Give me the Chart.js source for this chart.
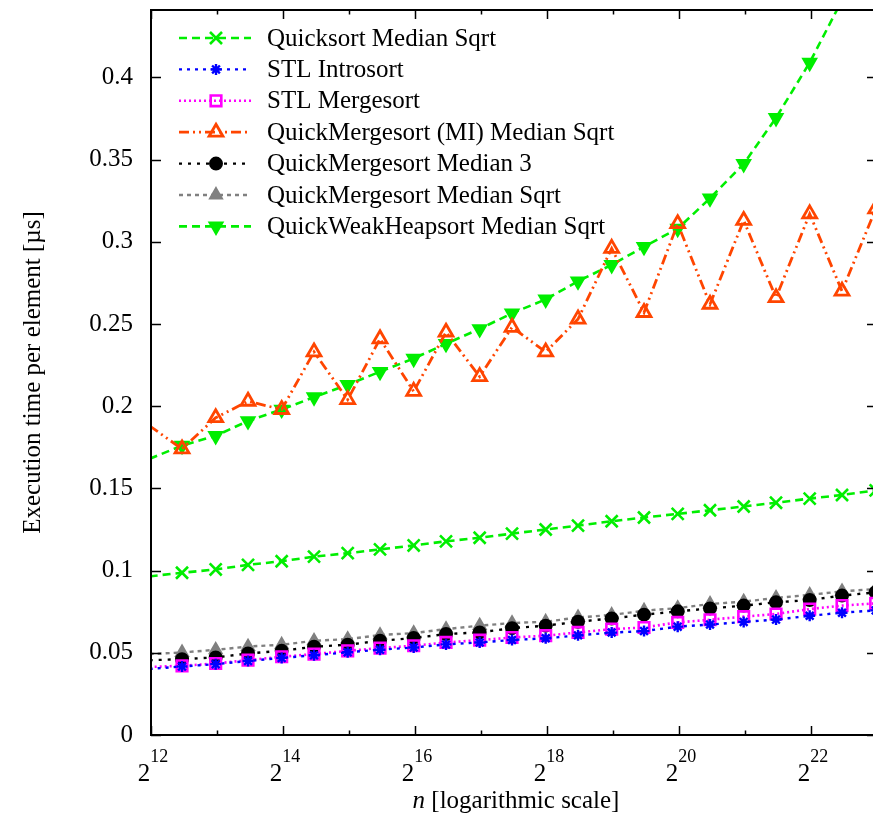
<!DOCTYPE html>
<html>
<head>
<meta charset="utf-8">
<script src="https://cdn.jsdelivr.net/npm/chart.js@4.4.1/dist/chart.umd.min.js"></script>
<style>
html, body { margin: 0; padding: 0; overflow: hidden; background: #fff; }
#wrap { width: 877px; height: 814px; }
</style>
</head>
<body>
<div id="wrap"><canvas id="chart" width="877" height="814"></canvas></div>
<script>
// x positions as log2(n)
const log2n = [11.98, 12.47, 12.98, 13.47, 13.98, 14.47, 14.98, 15.47, 15.98, 16.47, 16.98, 17.47,
               17.98, 18.47, 18.98, 19.47, 19.98, 20.47, 20.98, 21.47, 21.98, 22.47, 22.98, 23.47];
const xTickExponents = [12, 14, 16, 18, 20, 22];
const yTickValues = [0, 0.05, 0.1, 0.15, 0.2, 0.25, 0.3, 0.35, 0.4];

const quicksortSqrt = [0.0965, 0.0987, 0.1007, 0.1035, 0.1057, 0.1085, 0.1106, 0.1129, 0.1153, 0.1178, 0.1200, 0.1225,
                       0.1250, 0.1274, 0.1300, 0.1323, 0.1345, 0.1367, 0.1390, 0.1413, 0.1438, 0.1460, 0.1488, 0.1510];
const stlIntrosort = [0.0402, 0.0417, 0.0431, 0.0450, 0.0469, 0.0485, 0.0503, 0.0519, 0.0532, 0.0551, 0.0563, 0.0578,
                      0.0588, 0.0606, 0.0623, 0.0632, 0.0659, 0.0672, 0.0688, 0.0702, 0.0725, 0.0744, 0.0758, 0.0775];
const stlMergesort = [0.0414, 0.0421, 0.0435, 0.0455, 0.0476, 0.0492, 0.0512, 0.0529, 0.0543, 0.0563, 0.0577, 0.0593,
                      0.0604, 0.0624, 0.0644, 0.0654, 0.0685, 0.0701, 0.0720, 0.0736, 0.0766, 0.0787, 0.0801, 0.0820];
const qmsMiSqrt = [0.188, 0.174, 0.193, 0.203, 0.198, 0.233, 0.204, 0.241, 0.209, 0.245, 0.218, 0.248,
                   0.233, 0.253, 0.296, 0.257, 0.311, 0.262, 0.313, 0.266, 0.317, 0.270, 0.320, 0.272];
const qmsMedian3 = [0.0455, 0.0461, 0.0472, 0.0496, 0.0512, 0.0537, 0.0549, 0.0573, 0.0590, 0.0614, 0.0624, 0.0650,
                    0.0665, 0.0689, 0.0709, 0.0732, 0.0752, 0.0770, 0.0787, 0.0807, 0.0821, 0.0848, 0.0868, 0.0885];
const qmsSqrt = [0.0492, 0.0502, 0.0518, 0.0538, 0.0549, 0.0573, 0.0583, 0.0608, 0.0620, 0.0644, 0.0665, 0.0681,
                 0.0689, 0.0715, 0.0730, 0.0756, 0.0772, 0.0797, 0.0811, 0.0834, 0.0852, 0.0874, 0.0888, 0.0910];
const qwhsSqrt = [0.168, 0.176, 0.182, 0.191, 0.198, 0.2055, 0.213, 0.221, 0.229, 0.238, 0.247, 0.2565,
                  0.265, 0.276, 0.286, 0.297, 0.308, 0.3265, 0.3474, 0.3754, 0.409, 0.447, 0.490, 0.540];

const X_MIN = 12, X_MAX = 23, Y_MIN = 0, Y_MAX = 0.441;
const SERIF = "'Liberation Serif', 'Times New Roman', serif";
const FS = 25;

function pts(vals) {
    return vals.map((v, i) => ({ x: log2n[i], y: v }));
}

// hide markers gnuplot would not draw (outside the ranges)
function radiusFor(r) {
    return (ctx) => {
        const p = ctx.raw;
        if (!p || p.x < X_MIN || p.x > X_MAX || p.y > Y_MAX) return 0;
        return r;
    };
}

function series(label, vals, color, dash, style, r, fill, width, rot) {
    return {
        label: label,
        data: pts(vals),
        borderColor: color,
        backgroundColor: fill,
        borderWidth: width,
        borderDash: dash,
        borderCapStyle: 'butt',
        pointStyle: style,
        pointRadius: radiusFor(r),
        pointRotation: rot || 0,
        pointBorderColor: color,
        pointBackgroundColor: fill,
        pointBorderWidth: width,
        legendRadius: r,
        tension: 0,
        clip: 0
    };
}

const GREEN = '#00ee00';
const datasets = [
    series('Quicksort Median Sqrt', quicksortSqrt, GREEN, [8, 5], 'crossRot', 8.5, GREEN, 2.6),
    series('STL Introsort', stlIntrosort, '#0000ff', [3, 5], 'star', 5.5, '#0000ff', 2.4),
    series('STL Mergesort', stlMergesort, '#ff00ff', [2, 3], 'rect', 7.5, 'rgba(0,0,0,0)', 2.6),
    series('QuickMergesort (MI) Median Sqrt', qmsMiSqrt, '#ff4500', [10, 4, 2, 4, 2, 4], 'triangle', 8, 'rgba(0,0,0,0)', 2.8),
    series('QuickMergesort Median 3', qmsMedian3, '#000000', [3, 6], 'circle', 5.8, '#000000', 2.4),
    series('QuickMergesort Median Sqrt', qmsSqrt, '#808080', [4, 4], 'triangle', 6.5, '#808080', 2.4),
    series('QuickWeakHeapsort Median Sqrt', qwhsSqrt, GREEN, [8, 5], 'triangle', 7, GREEN, 2.6, 180)
];

const framePlugin = {
    id: 'frame',
    afterDraw(chart) {
        const ctx = chart.ctx;
        const a = chart.chartArea;
        const xs = chart.scales.x, ys = chart.scales.y;
        ctx.save();
        ctx.strokeStyle = '#000';
        ctx.lineWidth = 2;
        ctx.setLineDash([]);
        ctx.beginPath();
        ctx.moveTo(a.right, a.top); ctx.lineTo(a.left, a.top);
        ctx.lineTo(a.left, a.bottom); ctx.lineTo(a.right, a.bottom);
        ctx.stroke();

        ctx.lineWidth = 1.5;
        ctx.beginPath();
        yTickValues.forEach(v => {
            const y = Math.round(ys.getPixelForValue(v)) + 0.5;
            ctx.moveTo(a.left, y); ctx.lineTo(a.left + 10, y);
            ctx.moveTo(a.right, y); ctx.lineTo(a.right - 10, y);
        });
        for (let k = X_MIN; k <= X_MAX; k++) {
            const x = Math.round(xs.getPixelForValue(k)) + 0.5;
            const len = k % 2 === 0 ? 9 : 4.5;
            ctx.moveTo(x, a.bottom); ctx.lineTo(x, a.bottom - len);
            ctx.moveTo(x, a.top); ctx.lineTo(x, a.top + len);
        }
        ctx.stroke();

        // x tick labels 2^k
        ctx.fillStyle = '#000';
        ctx.textBaseline = 'alphabetic';
        ctx.textAlign = 'left';
        xTickExponents.forEach(k => {
            const x = xs.getPixelForValue(k);
            ctx.font = FS + 'px ' + SERIF;
            const wb = ctx.measureText('2').width;
            ctx.font = '18px ' + SERIF;
            const we = ctx.measureText(String(k)).width;
            const x0 = x - (wb + we) / 2 + 2;
            ctx.font = FS + 'px ' + SERIF;
            ctx.fillText('2', x0, a.bottom + 46);
            ctx.font = '18px ' + SERIF;
            ctx.fillText(String(k), x0 + wb, a.bottom + 27);
        });

        // x axis title with italic n
        ctx.font = 'italic ' + FS + 'px ' + SERIF;
        const wn = ctx.measureText('n').width;
        ctx.font = FS + 'px ' + SERIF;
        const rest = ' [logarithmic scale]';
        const wr = ctx.measureText(rest).width;
        const cx = (a.left + a.right) / 2 + 2;
        const tx = cx - (wn + wr) / 2;
        ctx.font = 'italic ' + FS + 'px ' + SERIF;
        ctx.fillText('n', tx, a.bottom + 73);
        ctx.font = FS + 'px ' + SERIF;
        ctx.fillText(rest, tx + wn, a.bottom + 73);

        // y axis title
        ctx.save();
        ctx.translate(33, (a.top + a.bottom) / 2);
        ctx.rotate(-Math.PI / 2);
        ctx.textAlign = 'center';
        ctx.textBaseline = 'middle';
        ctx.font = FS + 'px ' + SERIF;
        ctx.fillText('Execution time per element [µs]', 0, 0);
        ctx.restore();

        // key
        chart.data.datasets.forEach((ds, i) => {
            const y = a.top + 28 + i * 31.4;
            ctx.save();
            ctx.strokeStyle = ds.borderColor;
            ctx.lineWidth = ds.borderWidth;
            ctx.setLineDash(ds.borderDash);
            ctx.lineCap = 'butt';
            ctx.beginPath();
            ctx.moveTo(a.left + 28, y);
            ctx.lineTo(a.left + 100, y);
            ctx.stroke();
            ctx.setLineDash([]);
            ctx.fillStyle = ds.pointBackgroundColor;
            ctx.strokeStyle = ds.pointBorderColor;
            ctx.lineWidth = ds.pointBorderWidth;
            Chart.helpers.drawPoint(ctx, {
                pointStyle: ds.pointStyle,
                radius: ds.legendRadius,
                rotation: ds.pointRotation,
                borderWidth: ds.pointBorderWidth
            }, a.left + 65, y);
            ctx.restore();
            ctx.fillStyle = '#000';
            ctx.font = FS + 'px ' + SERIF;
            ctx.textAlign = 'left';
            ctx.textBaseline = 'middle';
            ctx.fillText(ds.label, a.left + 116, y + 1);
        });
        ctx.restore();
    }
};

function noPad(scale) {
    scale.paddingTop = 0;
    scale.paddingBottom = 0;
    scale.paddingLeft = 0;
    scale.paddingRight = 0;
}

const chart = new Chart(document.getElementById('chart').getContext('2d'), {
    type: 'line',
    data: { datasets: datasets },
    options: {
        responsive: false,
        animation: false,
        events: [],
        layout: { autoPadding: false, padding: { top: 10, right: 0, bottom: 0, left: 0 } },
        plugins: { legend: { display: false }, tooltip: { enabled: false }, title: { display: false } },
        scales: {
            x: {
                type: 'linear',
                min: X_MIN,
                max: X_MAX,
                grid: { display: false },
                border: { display: false },
                ticks: { display: false },
                afterFit(scale) { scale.height = 79; noPad(scale); }
            },
            y: {
                type: 'linear',
                min: Y_MIN,
                max: Y_MAX,
                grid: { display: false, drawTicks: false },
                border: { display: false },
                afterBuildTicks(scale) { scale.ticks = yTickValues.map(v => ({ value: v })); },
                ticks: {
                    color: '#000',
                    padding: 18,
                    font: { family: SERIF, size: FS },
                    callback: (v) => String(v)
                },
                afterFit(scale) { scale.width = 151; noPad(scale); }
            }
        }
    },
    plugins: [framePlugin]
});
</script>
</body>
</html>
